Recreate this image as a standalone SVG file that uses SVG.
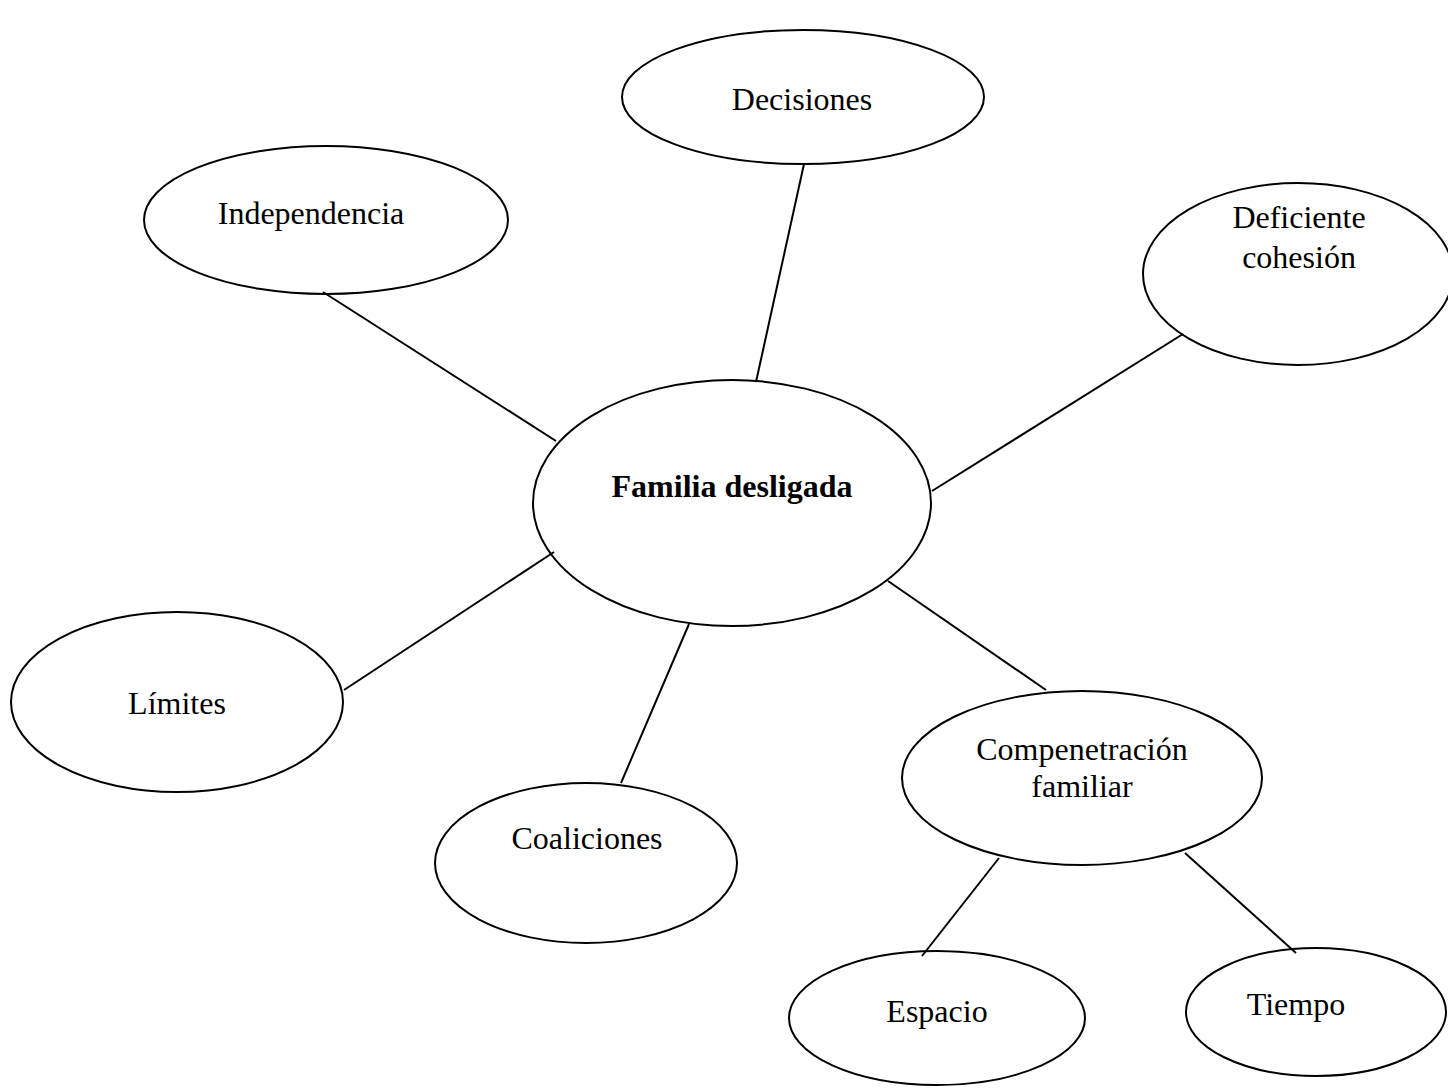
<svg xmlns="http://www.w3.org/2000/svg" width="1448" height="1091" viewBox="0 0 1448 1091">
<style>
.n ellipse{fill:#fff;stroke:#000;stroke-width:2}
text{font-family:"Liberation Serif","Times New Roman",serif;font-size:32px;fill:#000;text-anchor:middle}
.b{font-weight:bold}
#connectors line{stroke:#000;stroke-width:2}
</style>
<rect width="1448" height="1091" fill="#fff"/>
<g id="decisiones" class="n"><ellipse cx="803" cy="97" rx="181" ry="67"/><text x="802" y="110">Decisiones</text></g>
<g id="independencia" class="n"><ellipse cx="326" cy="220" rx="182" ry="74"/><text x="311" y="224">Independencia</text></g>
<g id="deficiente" class="n"><ellipse cx="1298" cy="274" rx="155" ry="91"/><text x="1299" y="228">Deficiente</text><text x="1299" y="268">cohesión</text></g>
<g id="familia" class="n"><ellipse cx="732" cy="503" rx="199" ry="123"/><text class="b" x="732" y="497">Familia desligada</text></g>
<g id="limites" class="n"><ellipse cx="177" cy="702" rx="166" ry="90"/><text x="177" y="714">Límites</text></g>
<g id="coaliciones" class="n"><ellipse cx="586" cy="863" rx="151" ry="80"/><text x="587" y="849">Coaliciones</text></g>
<g id="compenetracion" class="n"><ellipse cx="1082" cy="778" rx="180" ry="87"/><text x="1082" y="760">Compenetración</text><text x="1082" y="797">familiar</text></g>
<g id="espacio" class="n"><ellipse cx="937" cy="1018" rx="148" ry="67"/><text x="937" y="1022">Espacio</text></g>
<g id="tiempo" class="n"><ellipse cx="1316" cy="1012" rx="130" ry="64"/><text x="1296" y="1015">Tiempo</text></g>
<g id="connectors">
<line x1="323" y1="292" x2="556" y2="441"/>
<line x1="804" y1="164" x2="756" y2="382"/>
<line x1="1183" y1="334" x2="932" y2="491"/>
<line x1="554" y1="552" x2="344" y2="690"/>
<line x1="689" y1="624" x2="621" y2="783"/>
<line x1="888" y1="581" x2="1046" y2="690"/>
<line x1="999" y1="858" x2="922" y2="956"/>
<line x1="1185" y1="853" x2="1296" y2="953"/>
</g>
</svg>
